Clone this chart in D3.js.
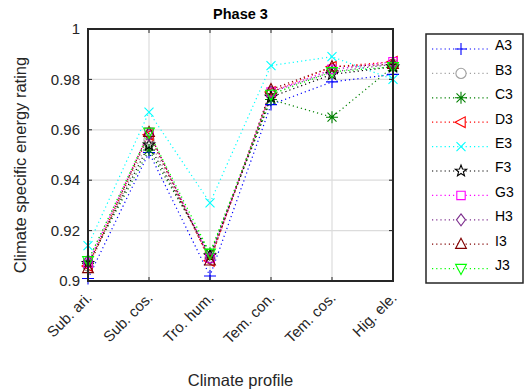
<!DOCTYPE html>
<html><head><meta charset="utf-8">
<script src="https://cdn.jsdelivr.net/npm/d3@7"></script>
<style>body{margin:0;background:#fff}svg{display:block;font-family:"Liberation Sans",Arial,sans-serif}</style>
</head><body><svg id="c" width="528" height="392"></svg>
<script>
const categories = ["Sub. ari.","Sub. cos.","Tro. hum.","Tem. con.","Tem. cos.","Hig. ele."];
const seriesNames = ["A3","B3","C3","D3","E3","F3","G3","H3","I3","J3"];
const A3 = [0.901,0.951,0.902,0.970,0.979,0.982];
const B3 = [0.906,0.956,0.909,0.974,0.984,0.986];
const C3 = [0.907,0.952,0.911,0.972,0.965,0.985];
const D3 = [0.906,0.958,0.908,0.975,0.985,0.987];
const E3 = [0.914,0.967,0.931,0.9855,0.989,0.980];
const F3 = [0.907,0.954,0.910,0.973,0.982,0.985];
const G3 = [0.907,0.959,0.909,0.975,0.984,0.987];
const H3 = [0.908,0.958,0.909,0.975,0.983,0.986];
const I3 = [0.905,0.959,0.908,0.976,0.985,0.986];
const J3 = [0.908,0.959,0.911,0.974,0.983,0.985];
const yTicks = [0.9,0.92,0.94,0.96,0.98,1];
const seriesValues = [A3,B3,C3,D3,E3,F3,G3,H3,I3,J3];
const colors = ["#0000ff","#a0a0a0","#008000","#ff0000","#00ffff","#000000","#ff00ff","#7e2f8e","#800000","#00ff00"];
const markers = ["plus","circle","asterisk","triLeft","cross","star","square","diamond","triUp","triDown"];

const svg = d3.select("#c");
const L=88,R=393,T=29,B=281;
const x = d3.scalePoint().domain(categories).range([L,R]);
const y = d3.scaleLinear().domain([0.9,1]).range([B,T]);

// grid
const g = svg.append("g");
g.selectAll(".vg").data(categories).join("line").attr("x1",d=>x(d)).attr("x2",d=>x(d)).attr("y1",T).attr("y2",B).attr("stroke","#dcdcdc").attr("stroke-width",1.2);
g.selectAll(".hg").data(yTicks).join("line").attr("x1",L).attr("x2",R).attr("y1",d=>y(d)).attr("y2",d=>y(d)).attr("stroke","#dcdcdc").attr("stroke-width",1.2);

function markerPath(type, s){
  const p = d3.path();
  switch(type){
    case "plus": p.moveTo(-s,0);p.lineTo(s,0);p.moveTo(0,-s);p.lineTo(0,s);break;
    case "circle": p.arc(0,0,s*0.85,0,2*Math.PI);break;
    case "cross": {const a=s*0.75;p.moveTo(-a,-a);p.lineTo(a,a);p.moveTo(-a,a);p.lineTo(a,-a);break;}
    case "asterisk": {const a=s*0.75;p.moveTo(-s,0);p.lineTo(s,0);p.moveTo(0,-s);p.lineTo(0,s);p.moveTo(-a,-a);p.lineTo(a,a);p.moveTo(-a,a);p.lineTo(a,-a);break;}
    case "square": {const a=s*0.7;p.rect(-a,-a,2*a,2*a);break;}
    case "diamond": p.moveTo(0,-s);p.lineTo(s*0.75,0);p.lineTo(0,s);p.lineTo(-s*0.75,0);p.closePath();break;
    case "triUp": p.moveTo(0,-s);p.lineTo(s*0.9,s*0.7);p.lineTo(-s*0.9,s*0.7);p.closePath();break;
    case "triDown": p.moveTo(0,s);p.lineTo(s*0.9,-s*0.7);p.lineTo(-s*0.9,-s*0.7);p.closePath();break;
    case "triLeft": p.moveTo(-s,0);p.lineTo(s*0.7,-s*0.9);p.lineTo(s*0.7,s*0.9);p.closePath();break;
    case "star": {
      for(let i=0;i<10;i++){const r=i%2?s*0.42:s;const ang=-Math.PI/2+i*Math.PI/5;const px=r*Math.cos(ang),py=r*Math.sin(ang);if(i===0)p.moveTo(px,py);else p.lineTo(px,py);}
      p.closePath();break;}
  }
  return p.toString();
}

const line = d3.line().x((d,i)=>x(categories[i])).y(d=>y(d));
const plot = svg.append("g");
seriesValues.forEach((vals,si)=>{
  plot.append("path").attr("d",line(vals)).attr("fill","none").attr("stroke",colors[si]).attr("stroke-width",1.2).attr("stroke-dasharray","1.2,3");
});
seriesValues.forEach((vals,si)=>{
  plot.selectAll(null).data(vals).join("path")
    .attr("transform",(d,i)=>`translate(${x(categories[i])},${y(d)})`)
    .attr("d",markerPath(markers[si],6)).attr("fill","none").attr("stroke",colors[si]).attr("stroke-width",1.1);
});

// axes box
const axc="#262626";
svg.append("rect").attr("x",L).attr("y",T).attr("width",R-L).attr("height",B-T).attr("fill","none").attr("stroke",axc).attr("stroke-width",2);
svg.selectAll(".yt").data(yTicks).join("line").attr("x1",L).attr("x2",L+4).attr("y1",d=>y(d)).attr("y2",d=>y(d)).attr("stroke",axc);
svg.selectAll(".yt2").data(yTicks).join("line").attr("x1",R).attr("x2",R-4).attr("y1",d=>y(d)).attr("y2",d=>y(d)).attr("stroke",axc);
svg.selectAll(".xt").data(categories).join("line").attr("x1",d=>x(d)).attr("x2",d=>x(d)).attr("y1",B).attr("y2",B-4).attr("stroke",axc);
svg.selectAll(".xt2").data(categories).join("line").attr("x1",d=>x(d)).attr("x2",d=>x(d)).attr("y1",T).attr("y2",T+4).attr("stroke",axc);

svg.selectAll(".yl").data(yTicks).join("text").attr("x",L-8).attr("y",d=>y(d)).attr("dy","0.35em").attr("text-anchor","end").attr("font-size",15).attr("fill","#262626").text(d=>d3.format("~g")(d));
svg.selectAll(".xl").data(categories).join("text").attr("transform",d=>`translate(${x(d)+1},${B+14}) rotate(-45)`).attr("dy","0.35em").attr("text-anchor","end").attr("font-size",15).attr("fill","#262626").text(d=>d);

svg.append("text").attr("x",(L+R)/2).attr("y",19).attr("text-anchor","middle").attr("font-size",14.5).attr("font-weight","bold").attr("fill","#000").text("Phase 3");
svg.append("text").attr("x",(L+R)/2).attr("y",386).attr("text-anchor","middle").attr("font-size",16.5).attr("fill","#262626").text("Climate profile");
svg.append("text").attr("transform",`translate(26,${(T+B)/2+10}) rotate(-90)`).attr("text-anchor","middle").attr("font-size",16.5).attr("fill","#262626").text("Climate specific energy rating");

// legend
const lg = svg.append("g");
lg.append("rect").attr("x",426).attr("y",34).attr("width",97).attr("height",249).attr("fill","#fff").attr("stroke",axc).attr("stroke-width",1.5);
seriesNames.forEach((n,i)=>{
  const ly = 49 + i*24.4;
  lg.append("line").attr("x1",432).attr("x2",488).attr("y1",ly).attr("y2",ly).attr("stroke",colors[i]).attr("stroke-width",1.2).attr("stroke-dasharray","1.2,3");
  lg.append("path").attr("transform",`translate(461,${ly})`).attr("d",markerPath(markers[i],6)).attr("fill","#fff").attr("stroke",colors[i]).attr("stroke-width",1.1);
  lg.append("text").attr("x",495).attr("y",ly).attr("dy","0.1em").attr("font-size",14).attr("fill","#000").text(n);
});
</script></body></html>
